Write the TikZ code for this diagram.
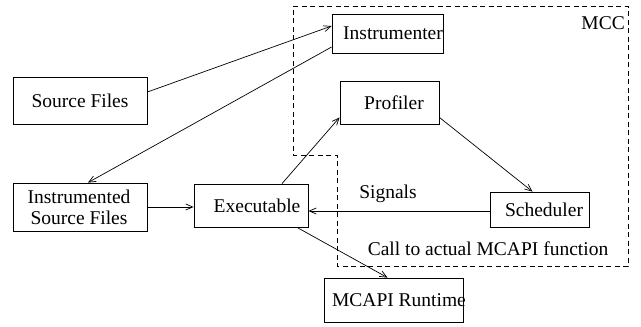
\documentclass[tikz,border=0pt]{standalone}
\usepackage{fontspec}
\setmainfont{Liberation Serif}
\usetikzlibrary{arrows.meta,calc}
\begin{document}
\begin{tikzpicture}[x=1pt,y=-1pt,
  every node/.style={font=\fontsize{19.5pt}{21pt}\selectfont},
  box/.style={draw, line width=0.8pt, inner sep=0pt},
  conn/.style={line width=0.7pt, -{Straight Barb[length=7pt,width=6pt]}},
  region/.style={line width=0.8pt, dash pattern=on 5pt off 3.5pt}]
\useasboundingbox (0,0) rectangle (641,327);
% MCC region
\draw[region] (293,6) -- (628,6) -- (628,266) -- (337,266) -- (337,155) -- (293,155) -- cycle;
% boxes
\node[box, minimum width=134pt, minimum height=47pt] (src) at (80,100.5) {};
\node at (80,100.5) {Source Files};
\node[box, minimum width=111pt, minimum height=39pt] (ins) at (387.5,33.5) {};
\node at (393,33.5) {Instrumenter};
\node[box, minimum width=99pt, minimum height=43pt] (pro) at (389.5,102.5) {};
\node at (394,102.5) {Profiler};
\node[box, minimum width=134pt, minimum height=48pt, align=center] (isf) at (80,207) {};
\node[align=center] at (79,207) {Instrumented\\Source Files};
\node[box, minimum width=114pt, minimum height=43pt] (exe) at (251,205.5) {};
\node at (257,205.5) {Executable};
\node[box, minimum width=99pt, minimum height=35pt] (sch) at (539.5,209.5) {};
\node at (544,209.5) {Scheduler};
\node[box, minimum width=139pt, minimum height=44pt] (rt) at (393.5,300) {};
\node at (399,300) {MCAPI Runtime};
% labels
\node[anchor=east, inner sep=0pt] (mcc) at (625,23) {MCC};
\node (sig) at (388,194) {Signals};
\node (call) at (488,249) {Call to actual MCAPI function};
% connectors
\coordinate (schw) at ([yshift=-1.5pt]sch.west);
\draw[conn] ([yshift=8.5pt]src.east) -- ([yshift=7.5pt]ins.west);
\draw[conn] ([yshift=-13.5pt]ins.west) -- ([xshift=8pt]isf.north);
\draw[conn] (isf.east) -- (exe.west |- isf.east);
\draw[conn] ([xshift=31pt]exe.north) -- ([yshift=7pt]pro.south west);
\draw[conn] ([yshift=7pt]pro.south east) -- ([xshift=-7pt]sch.north);
\draw[conn] (schw) -- (exe.east |- schw);
\draw[conn] ([xshift=46pt]exe.south) -- ([xshift=-6pt]rt.north);
\end{tikzpicture}
\end{document}
